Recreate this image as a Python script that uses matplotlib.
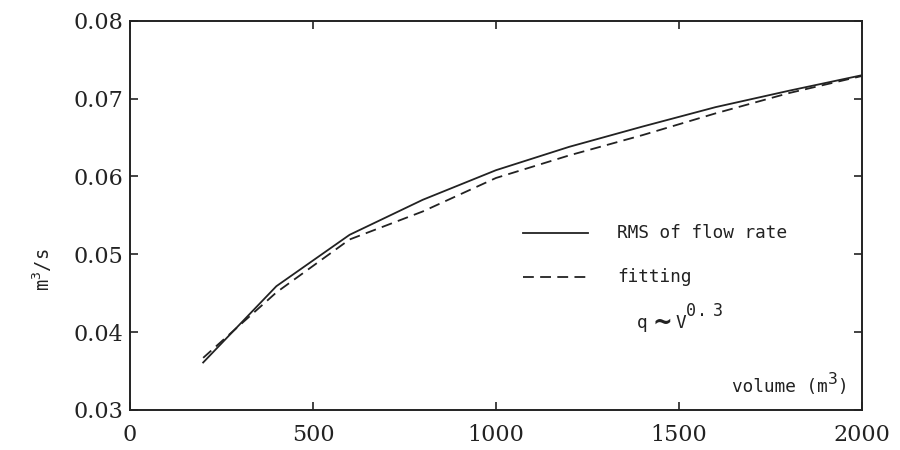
import numpy as np
import matplotlib
matplotlib.use("Agg")
import matplotlib.pyplot as plt
from matplotlib.transforms import offset_copy

plt.rcParams['mathtext.fontset'] = 'custom'
plt.rcParams['mathtext.rm'] = 'DejaVu Sans Mono'
plt.rcParams['mathtext.it'] = 'DejaVu Sans Mono'

# values
volume = [200, 400, 600, 800, 1000, 1200, 1400, 1600, 1800, 2000]
rms_flow = [0.0361, 0.0459, 0.0525, 0.0570, 0.0608, 0.0638, 0.0664, 0.0689, 0.0710, 0.0730]
fitting = [0.0367, 0.0451, 0.0519, 0.0555, 0.0598, 0.0627, 0.0653, 0.0681, 0.0707, 0.0729]

xticks = [0, 500, 1000, 1500, 2000]
yticks = [0.03, 0.04, 0.05, 0.06, 0.07, 0.08]

ink = "#222222"
mono = "DejaVu Sans Mono"
fs = 12.8
cw = 0.602 * fs  # width of one mono character in points

fig = plt.figure(figsize=(9, 4.5), dpi=100)
ax = fig.add_axes([0.1444, 0.0889, 0.8134, 0.8651])

ax.plot(volume, rms_flow, color=ink, lw=1.3)
ax.plot(volume, fitting, color=ink, lw=1.3, dashes=(6, 3.5))

ax.set_xlim(0, 2000)
ax.set_ylim(0.03, 0.08)
ax.set_xticks(xticks)
ax.set_yticks(yticks)
ax.set_xticklabels([str(v) for v in xticks])
ax.set_yticklabels(["%.2f" % v for v in yticks])
ax.tick_params(direction="in", length=6, width=1.2, color=ink,
               top=True, right=True, labelsize=16, labelcolor=ink)
ax.tick_params(axis="x", pad=10)
ax.tick_params(axis="y", pad=5)
for lab in ax.get_xticklabels() + ax.get_yticklabels():
    lab.set_fontfamily("DejaVu Serif")
for sp in ax.spines.values():
    sp.set_linewidth(1.4)
    sp.set_color(ink)

def piece(x, y, s, dx=0, dy=0, **kw):
    tr = offset_copy(ax.transAxes, fig=fig, x=dx, y=dy, units="points")
    opts = dict(va="baseline", fontsize=fs, family=mono, color=ink)
    opts.update(kw)
    ax.text(x, y, s, transform=tr, **opts)

# hand-drawn legend inside the axes
ax.plot([0.537, 0.626], [0.455, 0.455], transform=ax.transAxes, color=ink, lw=1.3)
ax.plot([0.537, 0.626], [0.342, 0.342], transform=ax.transAxes, color=ink, lw=1.3, dashes=(6, 3.5))
ax.text(0.665, 0.455, "RMS of flow rate", transform=ax.transAxes, va="center",
        fontsize=fs, family=mono, color=ink)
ax.text(0.665, 0.342, "fitting", transform=ax.transAxes, va="center",
        fontsize=fs, family=mono, color=ink)

# q ~ V^0.3
qx, qy = 0.6926, 0.2106
piece(qx, qy, "q")
piece(qx, qy, "~", dx=11.5, dy=-1.5, family="DejaVu Sans", fontsize=17, fontweight="bold")
piece(qx, qy, "V", dx=27.5)
piece(qx, qy, "0", dx=35.0, dy=8.5, fontsize=12)
piece(qx, qy, ".", dx=43.5, dy=8.5, fontsize=12)
piece(qx, qy, "3", dx=54.5, dy=8.5, fontsize=12)

# volume (m^3)
vx, vy = 0.8224, 0.046
piece(vx, vy, "volume (m")
piece(vx, vy, "3", dx=9 * cw - 0.5, dy=5.5, fontsize=fs - 1)
piece(vx, vy, ")", dx=10 * cw - 1.5)

fig.text(0.047, 0.40, r"m$^3$/s", rotation=90, ha="center", va="center",
         fontsize=13.5, family=mono, color=ink)

fig.savefig("out.png", dpi=100)
